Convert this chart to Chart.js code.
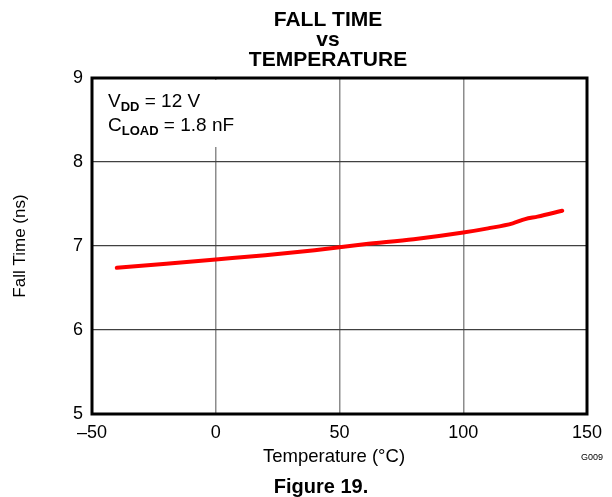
<!DOCTYPE html>
<html>
<head>
<meta charset="utf-8">
<script src="https://cdn.jsdelivr.net/npm/chart.js@4"></script>
<style>
  html, body { margin: 0; padding: 0; background: #fff; }
  #wrap { width: 612px; height: 497px; position: relative; }
</style>
</head>
<body>
<div id="wrap"><canvas id="fallChart" width="612" height="497"></canvas></div>
<script>
// Data (Figure 19)
const temps = [-40, -20, 0, 20, 40, 60, 80, 100, 110, 120, 125, 130, 140];
const fallTimes = [6.74, 6.79, 6.84, 6.89, 6.95, 7.02, 7.08, 7.16, 7.21, 7.27, 7.32, 7.35, 7.42];
const xTicks = [-50, 0, 50, 100, 150];
const yTicks = [5, 6, 7, 8, 9];
const titleLines = ['FALL TIME', 'vs', 'TEMPERATURE'];

const FONT = '"Liberation Sans", Arial, Helvetica, sans-serif';

// text, box and frame drawn by hand around the plot
const decorations = {
    id: 'decorations',
    beforeDatasetsDraw(chart) {
        const { ctx, chartArea: a } = chart;
        // white box behind the conditions text (hides the gridline)
        ctx.save();
        ctx.fillStyle = '#fff';
        ctx.fillRect(a.left + 2, a.top + 2, 160, 147 - a.top - 2);
        ctx.restore();
    },
    afterDraw(chart) {
        const { ctx, chartArea: a } = chart;
        ctx.save();
        // frame
        ctx.strokeStyle = '#000';
        ctx.lineWidth = 3;
        ctx.strokeRect(a.left, a.top, a.right - a.left, a.bottom - a.top);

        ctx.fillStyle = '#000';
        ctx.textAlign = 'center';
        ctx.textBaseline = 'alphabetic';
        ctx.font = 'bold 21px ' + FONT;
        ctx.fillText(titleLines[0], 328, 26);
        ctx.fillText(titleLines[1], 328, 46);
        ctx.fillText(titleLines[2], 328, 66);

        ctx.font = '18.5px ' + FONT;
        ctx.fillText('Temperature (°C)', 334, 462);

        ctx.font = 'bold 20px ' + FONT;
        ctx.fillText('Figure 19.', 321, 493);

        ctx.textAlign = 'left';
        ctx.font = '9px ' + FONT;
        ctx.fillText('G009', 581, 460);

        // y axis title
        ctx.save();
        ctx.translate(25, 246);
        ctx.rotate(-Math.PI / 2);
        ctx.textAlign = 'center';
        ctx.font = '17px ' + FONT;
        ctx.fillText('Fall Time (ns)', 0, 0);
        ctx.restore();

        // conditions with subscripts
        const parts = [
            [['V', '19px'], ['DD', 'bold 13px', 4], [' = 12 V', '19px']],
            [['C', '19px'], ['LOAD', 'bold 13px', 4], [' = 1.8 nF', '19px']]
        ];
        const baselines = [107, 131];
        parts.forEach((line, i) => {
            let x = 108;
            line.forEach(([txt, f, dy]) => {
                ctx.font = f + ' ' + FONT;
                ctx.fillText(txt, x, baselines[i] + (dy || 0));
                x += ctx.measureText(txt).width;
            });
        });
        ctx.restore();
    }
};

const ctx = document.getElementById('fallChart').getContext('2d');
const fallChart = new Chart(ctx, {
    type: 'line',
    data: {
        datasets: [{
            label: 'Fall Time',
            data: temps.map((t, i) => ({ x: t, y: fallTimes[i] })),
            borderColor: '#ff0000',
            borderWidth: 4,
            pointRadius: 0,
            cubicInterpolationMode: 'monotone',
            borderCapStyle: 'round',
            fill: false
        }]
    },
    options: {
        responsive: false,
        animation: false,
        layout: { padding: { left: 0, right: 25, top: 78, bottom: 0 } },
        plugins: {
            legend: { display: false },
            title: { display: false },
            tooltip: { enabled: false }
        },
        scales: {
            x: {
                type: 'linear',
                min: -50,
                max: 150,
                afterBuildTicks: (s) => { s.ticks = xTicks.map(v => ({ value: v })); },
                afterFit: (s) => { s.height = 497 - 414; },
                ticks: {
                    color: '#000',
                    font: { family: FONT, size: 18 },
                    padding: 8,
                    maxRotation: 0,
                    callback: (v) => String(v).replace('-', '\u2013')
                },
                grid: { color: '#8c8c8c', lineWidth: 1.5, drawTicks: false },
                border: { display: false }
            },
            y: {
                type: 'linear',
                min: 5,
                max: 9,
                afterBuildTicks: (s) => { s.ticks = yTicks.map(v => ({ value: v })); },
                afterFit: (s) => { s.width = 92; },
                ticks: {
                    color: '#000',
                    font: { family: FONT, size: 18 },
                    padding: 9
                },
                grid: { color: '#404040', lineWidth: 1.2, drawTicks: false },
                border: { display: false }
            }
        }
    },
    plugins: [decorations]
});
</script>
</body>
</html>
